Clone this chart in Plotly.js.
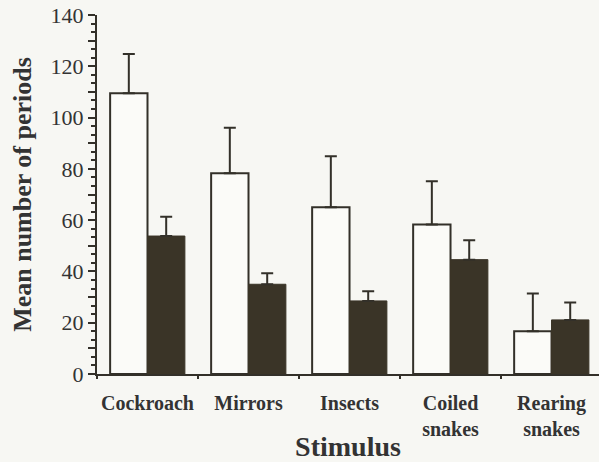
<!DOCTYPE html>
<html>
<head>
<meta charset="utf-8">
<script src="https://cdn.plot.ly/plotly-3.0.1.min.js"></script>
<style>html,body{margin:0;padding:0;background:#f7f7f3;}</style>
</head>
<body>
<div id="chart" style="width:599px;height:462px;"></div>
<script>
const categories = ["Cockroach", "Mirrors", "Insects", "Coiled<br>snakes", "Rearing<br>snakes"];
const whiteMeans = [109.5, 78.3, 65, 58.3, 16.7];
const whiteErr = [15.3, 17.7, 19.9, 16.9, 14.7];
const darkMeans = [53.8, 35, 28.5, 44.6, 21.1];
const darkErr = [7.5, 4.3, 3.8, 7.6, 6.8];
const yTickVals = [0,10,20,30,40,50,60,70,80,90,100,110,120,130,140];
const yTickText = ["0","","20","","40","","60","","80","","100","","120","","140"];

const ink = '#333029';
const traces = [
  {
    type: 'bar', x: categories, y: whiteMeans, name: 'white',
    marker: {color: '#fbfbf8', line: {color: ink, width: 2}},
    error_y: {type: 'data', array: whiteErr, arrayminus: whiteErr.map(() => 0), symmetric: false,
              color: ink, thickness: 2, width: 6}
  },
  {
    type: 'bar', x: categories, y: darkMeans, name: 'dark',
    marker: {color: '#3a3427', line: {color: '#3a3427', width: 1}},
    error_y: {type: 'data', array: darkErr, arrayminus: darkErr.map(() => 0), symmetric: false,
              color: ink, thickness: 2, width: 6}
  }
];

const layout = {
  width: 599, height: 462,
  margin: {l: 97, r: 0, t: 15, b: 88},
  paper_bgcolor: '#f7f7f3', plot_bgcolor: '#f7f7f3',
  showlegend: false,
  barmode: 'group', bargap: 0.26, bargroupgap: 0,
  font: {family: 'Liberation Serif', color: '#333'},
  xaxis: {
    range: [-0.5, 4.47],
    showline: true, linewidth: 2, linecolor: ink,
    ticks: 'outside', ticklen: 3, tickwidth: 2, tickcolor: ink, tickson: 'boundaries',
    ticklabelstandoff: 10, tickangle: 0,
    tickfont: {family: 'Liberation Serif', size: 20, weight: 'bold', color: '#333'},
    title: {text: 'Stimulus', font: {family: 'Liberation Serif', size: 28, weight: 'bold', color: '#333'}, standoff: 0},
    showgrid: false, zeroline: false
  },
  yaxis: {
    range: [0, 140], tickmode: 'array', tickvals: yTickVals, ticktext: yTickText,
    showline: true, linewidth: 2, linecolor: ink,
    ticks: 'outside', ticklen: 7, tickwidth: 2, tickcolor: ink,
    minor: {dtick: 10/3, tick0: 0, ticks: 'outside', ticklen: 4, tickwidth: 2, tickcolor: ink, showgrid: false},
    tickfont: {family: 'Liberation Serif', size: 22, color: '#333'},
    title: {text: 'Mean number of periods', font: {family: 'Liberation Serif', size: 26, weight: 'bold', color: '#333'}, standoff: 11},
    showgrid: false, zeroline: false
  }
};

Plotly.newPlot('chart', traces, layout, {displayModeBar: false, staticPlot: true});
</script>
</body>
</html>
